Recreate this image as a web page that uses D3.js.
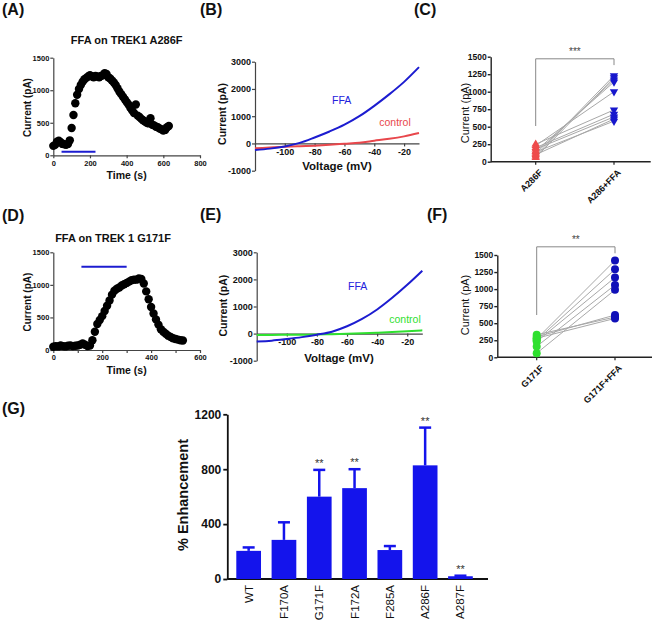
<!DOCTYPE html>
<html>
<head>
<meta charset="utf-8">
<script src="https://cdn.jsdelivr.net/npm/d3@7"></script>
<style>
  body { margin: 0; background: #fff; }
  svg { display: block; }
  text { font-family: "Liberation Sans", Arial, sans-serif; }
</style>
</head>
<body>
<svg id="fig" width="655" height="620"></svg>
<script>
// ---------------- DATA ----------------
// Panel A: time course, TREK1 A286F
const timeA = [0,10,20,30,40,50,60,70,80,90,100,110,120,130,140,150,160,170,180,190,200,210,220,230,240,250,260,270,280,290,300,310,320,330,340,350,360,370,380,390,400,410,420,430,440,450,460,470,480,490,500,510,520,530,540,550,560,570,580,590,600,610,620,630];
const currentA = [145,160,210,225,200,175,170,160,175,230,420,620,800,930,1020,1080,1130,1170,1190,1210,1230,1215,1200,1220,1210,1200,1220,1230,1260,1250,1200,1180,1150,1120,1080,1030,980,940,900,860,820,780,730,690,650,780,610,590,560,540,520,500,490,570,470,460,440,430,410,400,380,390,430,450];
const drugA = [45, 230];      // FFA application (s)
const drugLevelA = 55;        // pA level of the bar
const timeTicksA = [0,200,400,600,800];
const currTicksA = [0,500,1000,1500];

// Panel D: time course, TREK1 G171F
const timeD = [0,10,20,30,40,50,60,70,80,90,100,110,120,130,140,150,160,170,180,190,200,210,220,230,240,250,260,270,280,290,300,310,320,330,340,350,360,370,380,390,400,410,420,430,440,450,460,470,480,490,500,510,520,530];
const currentD = [50,60,55,70,60,55,65,70,60,65,70,80,100,80,60,70,150,280,400,460,520,600,680,760,850,910,940,960,990,1010,1030,1050,1070,1080,1080,1100,1090,1020,900,780,660,560,470,390,320,280,250,220,200,180,170,160,150,145];
const drugD = [115, 300];
const drugLevelD = 1280;
const timeTicksD = [0,100,200,300,400,500,600];
const timeLabelsD = [0,200,400,600];

// Panels B / E: I-V curves
const voltage = [-120,-110,-100,-90,-80,-70,-60,-50,-40,-30,-20,-10];
const ivFFA_B = [-240,-190,-110,20,220,440,690,1000,1380,1800,2260,2800];
const ivCtl_B = [-180,-150,-120,-100,-80,-50,-10,30,100,170,260,380];
const ivFFA_E = [-290,-260,-200,-130,-40,70,270,540,890,1320,1800,2320];
const ivCtl_E = [-50,-50,-45,-40,-35,-20,-5,10,30,55,85,120];
const voltTicks = [-100,-80,-60,-40,-20];
const ivCurrTicks = [-1000,0,1000,2000,3000];

// Panel C: paired A286F vs A286+FFA
const catC = ["A286F","A286+FFA"];
const ctlC = [80,60,120,150,230,250,200,180,100,140];
const ffaC = [1230,1200,1170,1140,1000,740,680,640,610,580];
// Panel F: paired G171F vs G171F+FFA
const catF = ["G171F","G171F+FFA"];
const ctlF = [270,250,230,160,60,300,330,280];
const ffaF = [1420,1290,1170,1060,990,620,590,570];
const pairTicks = [0,250,500,750,1000,1250,1500];

// Panel G: % enhancement
const mutants = ["WT","F170A","G171F","F172A","F285A","A286F","A287F"];
const enhancement = [205,285,600,662,211,828,20];
const enhancementErr = [25,128,195,138,29,275,4];
const enhancementSig = ["","","**","**","","**","**"];
const enhTicks = [0,400,800,1200];

// ---------------- DRAWING ----------------
const svg = d3.select("#fig");
svg.append("rect").attr("width",655).attr("height",620).attr("fill","#fff");

const AX = "#444";
const BLUE = "#1c1cd0";
const RED = "#e8474c";
const GREEN = "#2fe02f";
const plain = d => String(d);

function panelLabel(t, x, y){
  svg.append("text").attr("x",x).attr("y",y).attr("font-size",16).attr("font-weight","bold")
    .attr("fill","#111").text(t);
}
function styleAxis(g, fs, color, sw){
  g.selectAll("path,line").attr("stroke",color).attr("stroke-width",sw);
  g.selectAll("text").attr("font-size",fs).attr("font-weight","bold").attr("fill","#111")
    .attr("font-family","Liberation Sans, Arial, sans-serif");
}
function rotLabel(t, x, y, fs, bold){
  svg.append("text").attr("transform",`translate(${x},${y}) rotate(-90)`)
    .attr("text-anchor","middle").attr("dy","0.35em").attr("font-size",fs)
    .attr("font-weight",bold?"bold":"normal").attr("fill","#111").text(t);
}
function hLabel(t, x, y, fs, bold, color, anchor){
  svg.append("text").attr("x",x).attr("y",y).attr("text-anchor",anchor||"middle")
    .attr("font-size",fs).attr("font-weight",bold?"bold":"normal").attr("fill",color||"#111").text(t);
}

// ---- time-course panels (A, D)
function timeCourse(opts){
  const x = d3.scaleLinear().domain(opts.xDomain).range(opts.xRange);
  const y = d3.scaleLinear().domain([0,1500]).range(opts.yRange);
  const gx = svg.append("g").attr("transform",`translate(0,${opts.yRange[0]})`)
    .call(d3.axisBottom(x).tickValues(opts.xTicks).tickSize(3).tickSizeOuter(0).tickPadding(2)
      .tickFormat(d => opts.xLabels.includes(d) ? String(d) : ""));
  styleAxis(gx, 7.5, AX, 1.2);
  const gy = svg.append("g").attr("transform",`translate(${opts.xRange[0]},0)`)
    .call(d3.axisLeft(y).tickValues(currTicksA).tickFormat(plain).tickSize(3).tickSizeOuter(0).tickPadding(1));
  styleAxis(gy, 7.5, AX, 1.2);
  svg.append("g").selectAll("circle").data(opts.t).join("circle")
    .attr("cx",(d)=>x(d)).attr("cy",(d,i)=>y(opts.v[i])).attr("r",4.2).attr("fill","#000");
  svg.append("line").attr("x1",x(opts.drug[0])).attr("x2",x(opts.drug[1]))
    .attr("y1",y(opts.drugLevel)).attr("y2",y(opts.drugLevel))
    .attr("stroke",BLUE).attr("stroke-width",2);
  hLabel(opts.title, opts.titleX, opts.titleY, 11, true);
  hLabel("Time (s)", (opts.xRange[0]+opts.xRange[1])/2, opts.yRange[0]+24, 10.5, true);
  rotLabel("Current (pA)", 27, (opts.yRange[0]+opts.yRange[1])/2 + 1, 10, true);
}

timeCourse({xDomain:[0,800], xRange:[53.3,200], yRange:[155.3,57.7], xTicks:timeTicksA, xLabels:timeTicksA,
  t:timeA, v:currentA, drug:drugA, drugLevel:drugLevelA, title:"FFA on TREK1 A286F", titleX:126.7, titleY:44});
timeCourse({xDomain:[0,600], xRange:[53.3,200], yRange:[350,252.3], xTicks:timeTicksD, xLabels:timeLabelsD,
  t:timeD, v:currentD, drug:drugD, drugLevel:drugLevelD, title:"FFA on TREK 1 G171F", titleX:113, titleY:242});

// ---- I-V panels (B, E)
function ivPanel(opts){
  const x = d3.scaleLinear().domain([-120,-10]).range(opts.xRange);
  const y = d3.scaleLinear().domain([-1000,3000]).range(opts.yRange);
  const gx = svg.append("g").attr("transform",`translate(0,${y(0)})`)
    .call(d3.axisBottom(x).tickValues(voltTicks).tickFormat(plain).tickSize(3).tickSizeOuter(0).tickPadding(2));
  styleAxis(gx, 9, AX, 1.2);
  const gy = svg.append("g").attr("transform",`translate(${opts.xRange[0]},0)`)
    .call(d3.axisLeft(y).tickValues(ivCurrTicks).tickFormat(plain).tickSize(3).tickSizeOuter(0).tickPadding(1));
  styleAxis(gy, 9, AX, 1.2);
  const line = d3.line().x((d,i)=>x(voltage[i])).y(d=>y(d)).curve(d3.curveMonotoneX);
  svg.append("path").datum(opts.ctl).attr("d",line).attr("fill","none")
    .attr("stroke",opts.ctlColor).attr("stroke-width",2);
  svg.append("path").datum(opts.ffa).attr("d",line).attr("fill","none")
    .attr("stroke",BLUE).attr("stroke-width",2);
  hLabel("FFA", opts.ffaLab[0], opts.ffaLab[1], 10.5, false, "#2222dd");
  hLabel("control", opts.ctlLab[0], opts.ctlLab[1], 10.5, false, opts.ctlColor);
  hLabel("Voltage (mV)", opts.vLab[0], opts.vLab[1], 11.5, true);
  rotLabel("Current (pA)", opts.cLab[0], opts.cLab[1], 10.5, true);
}
ivPanel({xRange:[255,419], yRange:[170.7,61.7], ffa:ivFFA_B, ctl:ivCtl_B, ctlColor:RED,
  ffaLab:[341.7,104], ctlLab:[395,125.5], vLab:[337,169.5], cLab:[222,114]});
ivPanel({xRange:[256.7,422.3], yRange:[360.7,252.3], ffa:ivFFA_E, ctl:ivCtl_E, ctlColor:GREEN,
  ffaLab:[357.7,289.5], ctlLab:[405,323], vLab:[339,361.5], cLab:[223,305.7]});

// ---- paired panels (C, F)
function pairPanel(opts){
  const x = d3.scalePoint().domain(opts.cats).range(opts.catX);
  const y = d3.scaleLinear().domain([0,1500]).range(opts.yRange);
  const gy = svg.append("g").attr("transform",`translate(${opts.axX},0)`)
    .call(d3.axisLeft(y).tickValues(pairTicks).tickFormat(plain).tickSize(3).tickSizeOuter(0).tickPadding(1));
  styleAxis(gy, 8.5, "#222", 1.4);
  const gx = svg.append("g").attr("transform",`translate(0,${opts.yRange[0]})`);
  gx.append("line").attr("x1",opts.axX).attr("x2",opts.axEnd).attr("stroke","#222").attr("stroke-width",1.4);
  gx.selectAll("line.tk").data(opts.cats).join("line").attr("class","tk")
    .attr("x1",d=>x(d)).attr("x2",d=>x(d)).attr("y1",0).attr("y2",3).attr("stroke","#222").attr("stroke-width",1.2);
  gx.selectAll("text").data(opts.cats).join("text")
    .attr("transform",d=>`translate(${x(d)+3},7) rotate(-45)`)
    .attr("text-anchor","end").attr("dy","0.7em").attr("font-size",9).attr("font-weight","bold")
    .attr("fill","#111").text(d=>d);
  // connecting lines
  svg.append("g").selectAll("line").data(opts.ctl).join("line")
    .attr("x1",x(opts.cats[0])).attr("x2",x(opts.cats[1]))
    .attr("y1",d=>y(d)).attr("y2",(d,i)=>y(opts.ffa[i]))
    .attr("stroke","#a8a8a8").attr("stroke-width",1);
  const g = svg.append("g");
  if (opts.shape === "tri"){
    const up = d3.symbol().type(d3.symbolTriangle).size(30);
    g.selectAll("path.c").data(opts.ctl).join("path").attr("class","c").attr("d",up)
      .attr("transform",d=>`translate(${x(opts.cats[0])},${y(d)})`).attr("fill",opts.ctlColor);
    g.selectAll("path.f").data(opts.ffa).join("path").attr("class","f").attr("d",up)
      .attr("transform",d=>`translate(${x(opts.cats[1])},${y(d)}) rotate(180)`).attr("fill",opts.ffaColor);
  } else {
    g.selectAll("circle.c").data(opts.ctl).join("circle").attr("class","c")
      .attr("cx",x(opts.cats[0])).attr("cy",d=>y(d)).attr("r",4).attr("fill",opts.ctlColor);
    g.selectAll("circle.f").data(opts.ffa).join("circle").attr("class","f")
      .attr("cx",x(opts.cats[1])).attr("cy",d=>y(d)).attr("r",4).attr("fill",opts.ffaColor);
  }
  // significance bracket
  const b = opts.bracket;
  svg.append("path").attr("d",`M${x(opts.cats[0])},${y(b[1])}V${y(b[0])}H${x(opts.cats[1])}V${y(b[2])}`)
    .attr("fill","none").attr("stroke","#888").attr("stroke-width",1);
  hLabel(opts.sig, (x(opts.cats[0])+x(opts.cats[1]))/2, y(b[0])-4, 10, false, "#444");
  rotLabel("Current (pA)", 465, opts.cLabY, 11, false);
}
pairPanel({cats:catC, catX:[535.7,614], yRange:[161.7,56.7], axX:490.7, axEnd:650.7,
  ctl:ctlC, ffa:ffaC, shape:"tri", ctlColor:"#ee4b4b", ffaColor:"#1717cc",
  bracket:[1470,510,1380], sig:"***", cLabY:113});
pairPanel({cats:catF, catX:[536.7,615], yRange:[357.3,255], axX:497.3, axEnd:652,
  ctl:ctlF, ffa:ffaF, shape:"circ", ctlColor:"#2fe02f", ffaColor:"#1010b8",
  bracket:[1620,620,1525], sig:"**", cLabY:305});

// ---- bar chart (G)
(function(){
  const x = d3.scaleBand().domain(mutants).range([236.3,472.8]).paddingInner(0.3).paddingOuter(0);
  const y = d3.scaleLinear().domain([0,1200]).range([579,414.3]);
  const gy = svg.append("g").attr("transform","translate(227.3,0)")
    .call(d3.axisLeft(y).tickValues(enhTicks).tickFormat(plain).tickSize(4).tickSizeOuter(0).tickPadding(2));
  styleAxis(gy, 12, "#111", 1.8);
  svg.append("line").attr("x1",227.3).attr("x2",488).attr("y1",579).attr("y2",579)
    .attr("stroke","#111").attr("stroke-width",1.8);
  const bars = svg.append("g");
  bars.selectAll("rect").data(mutants).join("rect")
    .attr("x",d=>x(d)).attr("width",x.bandwidth())
    .attr("y",(d,i)=>y(enhancement[i])).attr("height",(d,i)=>y(0)-y(enhancement[i]))
    .attr("fill","#1414ec");
  bars.selectAll("line.err").data(mutants).join("line").attr("class","err")
    .attr("x1",d=>x(d)+x.bandwidth()/2).attr("x2",d=>x(d)+x.bandwidth()/2)
    .attr("y1",(d,i)=>y(enhancement[i])).attr("y2",(d,i)=>y(enhancement[i]+enhancementErr[i]))
    .attr("stroke","#1414ec").attr("stroke-width",2.5);
  bars.selectAll("line.cap").data(mutants).join("line").attr("class","cap")
    .attr("x1",d=>x(d)+x.bandwidth()/2-6).attr("x2",d=>x(d)+x.bandwidth()/2+6)
    .attr("y1",(d,i)=>y(enhancement[i]+enhancementErr[i])).attr("y2",(d,i)=>y(enhancement[i]+enhancementErr[i]))
    .attr("stroke","#1414ec").attr("stroke-width",2.5);
  bars.selectAll("text.sig").data(mutants).join("text").attr("class","sig")
    .attr("x",d=>x(d)+x.bandwidth()/2).attr("y",(d,i)=>y(enhancement[i]+enhancementErr[i])-3)
    .attr("text-anchor","middle").attr("font-size",11).attr("fill","#333")
    .text((d,i)=>enhancementSig[i]);
  svg.append("g").selectAll("text").data(mutants).join("text")
    .attr("transform",d=>`translate(${x(d)+x.bandwidth()/2},585) rotate(-90)`)
    .attr("text-anchor","end").attr("dy","0.35em").attr("font-size",11.5).attr("fill","#111").text(d=>d);
  rotLabel("% Enhancement", 183, 495, 14.5, true);
})();

panelLabel("(A)", 2, 15);
panelLabel("(B)", 200, 15);
panelLabel("(C)", 414, 15);
panelLabel("(D)", 2, 221);
panelLabel("(E)", 200, 220);
panelLabel("(F)", 427, 220);
panelLabel("(G)", 2, 414);
</script>
</body>
</html>
